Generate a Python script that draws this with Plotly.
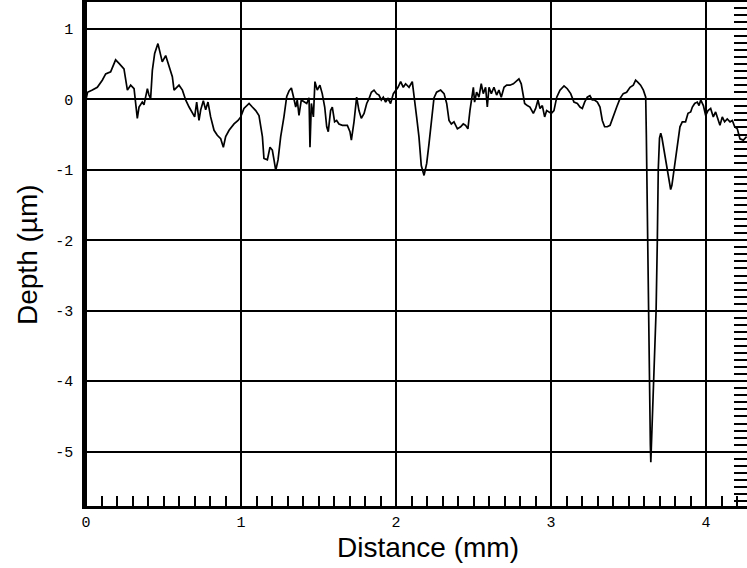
import plotly.graph_objects as go

# Profile trace: distance (mm) and depth (um)
distance_mm = [
    0.000, 0.010, 0.041, 0.073, 0.105, 0.127, 0.159, 0.191, 0.213, 0.245,
    0.267, 0.288, 0.310, 0.320, 0.331, 0.342, 0.363, 0.374, 0.396, 0.406,
    0.417, 0.428, 0.443, 0.464, 0.482, 0.492, 0.514, 0.535, 0.557, 0.568,
    0.600, 0.622, 0.643, 0.665, 0.686, 0.701, 0.714, 0.729, 0.740, 0.757,
    0.772, 0.787, 0.804, 0.826, 0.847, 0.869, 0.886, 0.901, 0.923, 0.955,
    0.981, 0.998, 1.019, 1.052, 1.073, 1.095, 1.116, 1.138, 1.148, 1.170,
    1.187, 1.202, 1.213, 1.224, 1.239, 1.256, 1.277, 1.295, 1.310, 1.325,
    1.338, 1.353, 1.363, 1.374, 1.389, 1.406, 1.424, 1.439, 1.445, 1.454,
    1.467, 1.477, 1.492, 1.509, 1.524, 1.540, 1.553, 1.563, 1.578, 1.589,
    1.604, 1.617, 1.632, 1.654, 1.686, 1.703, 1.712, 1.729, 1.746, 1.761,
    1.776, 1.794, 1.811, 1.826, 1.841, 1.858, 1.875, 1.890, 1.905, 1.918,
    1.933, 1.948, 1.965, 1.983, 1.998, 2.013, 2.030, 2.047, 2.062, 2.084,
    2.105, 2.116, 2.133, 2.148, 2.163, 2.181, 2.198, 2.213, 2.228, 2.245,
    2.262, 2.288, 2.310, 2.327, 2.342, 2.357, 2.374, 2.396, 2.417, 2.434,
    2.449, 2.464, 2.477, 2.492, 2.499, 2.507, 2.520, 2.535, 2.550, 2.563,
    2.578, 2.589, 2.600, 2.615, 2.632, 2.649, 2.664, 2.679, 2.697, 2.714,
    2.735, 2.757, 2.778, 2.793, 2.808, 2.821, 2.830, 2.847, 2.864, 2.886,
    2.901, 2.916, 2.929, 2.944, 2.959, 2.972, 2.987, 3.002, 3.019, 3.037,
    3.058, 3.084, 3.105, 3.127, 3.148, 3.170, 3.187, 3.202, 3.217, 3.234,
    3.251, 3.266, 3.281, 3.299, 3.316, 3.331, 3.346, 3.363, 3.381, 3.402,
    3.424, 3.445, 3.466, 3.488, 3.510, 3.531, 3.546, 3.561, 3.578, 3.596,
    3.611, 3.615, 3.620, 3.627, 3.632, 3.637, 3.641, 3.644, 3.650, 3.658,
    3.668, 3.678, 3.686, 3.692, 3.700, 3.708, 3.716, 3.728, 3.740, 3.751,
    3.762, 3.772, 3.780, 3.790, 3.804, 3.819, 3.832, 3.847, 3.868, 3.884,
    3.901, 3.912, 3.927, 3.944, 3.955, 3.966, 3.983, 3.998, 4.013, 4.030,
    4.047, 4.062, 4.077, 4.090, 4.105, 4.120, 4.137, 4.155, 4.170, 4.185,
    4.202, 4.219, 4.241, 4.262,
]
depth_um = [
    0.00, 0.10, 0.13, 0.17, 0.27, 0.36, 0.39, 0.56, 0.51, 0.43,
    0.13, 0.20, 0.15, -0.11, -0.27, -0.11, -0.04, -0.08, 0.15, 0.06,
    0.01, 0.41, 0.65, 0.79, 0.62, 0.53, 0.62, 0.46, 0.32, 0.13,
    0.20, 0.13, -0.01, -0.11, -0.20, -0.25, -0.04, -0.30, -0.15, -0.02,
    -0.15, -0.04, -0.25, -0.44, -0.51, -0.56, -0.68, -0.53, -0.44, -0.35,
    -0.30, -0.25, -0.13, -0.06, -0.11, -0.16, -0.23, -0.53, -0.84, -0.86,
    -0.68, -0.72, -0.86, -1.01, -0.86, -0.53, -0.25, 0.04, 0.12, 0.16,
    0.04, -0.11, -0.01, -0.23, -0.01, -0.04, -0.06, 0.02, -0.68, -0.06,
    -0.25, 0.25, 0.13, 0.20, 0.08, -0.11, -0.39, -0.46, -0.16, -0.11,
    -0.32, -0.30, -0.35, -0.37, -0.37, -0.46, -0.58, -0.32, 0.03, -0.16,
    -0.27, -0.20, -0.06, 0.01, 0.10, 0.13, 0.08, 0.06, -0.01, 0.03,
    -0.04, 0.01, -0.06, 0.08, 0.13, 0.17, 0.25, 0.17, 0.22, 0.17,
    0.25, 0.02, -0.25, -0.53, -0.94, -1.08, -0.91, -0.63, -0.30, 0.02,
    0.10, 0.13, 0.08, -0.06, -0.30, -0.35, -0.32, -0.42, -0.39, -0.35,
    -0.37, -0.42, -0.16, 0.03, 0.17, -0.04, 0.10, 0.03, 0.22, 0.08,
    0.17, -0.11, 0.17, 0.08, 0.17, 0.06, 0.13, 0.03, 0.17, 0.20,
    0.20, 0.22, 0.26, 0.29, 0.22, 0.08, -0.06, -0.09, -0.11, -0.20,
    -0.13, -0.01, -0.13, -0.09, -0.25, -0.16, -0.18, -0.20, -0.16, 0.03,
    0.13, 0.19, 0.15, 0.08, -0.04, -0.06, -0.11, -0.13, -0.04, 0.03,
    0.05, -0.01, -0.01, -0.04, -0.11, -0.30, -0.39, -0.39, -0.37, -0.23,
    -0.11, 0.01, 0.08, 0.10, 0.17, 0.20, 0.27, 0.24, 0.20, 0.13,
    0.03, -0.50, -1.50, -2.50, -3.50, -4.30, -4.90, -5.15, -4.80, -4.30,
    -3.85, -3.00, -2.00, -1.00, -0.55, -0.48, -0.55, -0.70, -0.87, -1.01,
    -1.15, -1.28, -1.22, -1.06, -0.82, -0.63, -0.39, -0.32, -0.32, -0.20,
    -0.18, -0.11, -0.06, -0.04, -0.09, -0.01, -0.09, -0.23, -0.16, -0.13,
    -0.25, -0.18, -0.28, -0.37, -0.25, -0.32, -0.28, -0.32, -0.30, -0.39,
    -0.42, -0.56, -0.58, -0.53,
]

x_ticks = [0, 1, 2, 3, 4]
x_tick_labels = ["0", "1", "2", "3", "4"]
y_ticks = [1, 0, -1, -2, -3, -4, -5]
y_tick_labels = ["1", "0", "-1", "-2", "-3", "-4", "-5"]
x_title = "Distance (mm)"
y_title = "Depth (µm)"

fig = go.Figure()
fig.add_trace(go.Scatter(
    x=distance_mm, y=depth_um, mode="lines",
    line=dict(color="black", width=1.7), showlegend=False,
))
# empty trace so the right-hand ruler axis is drawn
fig.add_trace(go.Scatter(x=[], y=[], yaxis="y2", showlegend=False,
                         hoverinfo="skip"))

tick_font = dict(family="Liberation Mono", size=15, color="black")
title_font = dict(family="Liberation Sans", size=28, color="black")
y_range = [-5.77, 1.38]

fig.update_layout(
    width=747, height=568,
    margin=dict(l=85, r=0, t=2, b=62, autoexpand=False),
    paper_bgcolor="white", plot_bgcolor="white",
    xaxis=dict(
        range=[-0.0065, 4.2645], automargin=False,
        tickmode="array", tickvals=x_ticks, ticktext=x_tick_labels,
        ticks="", ticklen=0, tickfont=tick_font, ticklabelstandoff=0,
        showgrid=True, gridcolor="black", gridwidth=2,
        zeroline=False, showline=True, linecolor="black", linewidth=2.5,
        mirror=True,
        minor=dict(tick0=0, dtick=0.1, ticks="inside", ticklen=10,
                   tickwidth=1.5, tickcolor="black", showgrid=False),
    ),
    yaxis=dict(
        range=y_range, automargin=False,
        tickmode="array", tickvals=y_ticks, ticktext=y_tick_labels,
        ticks="", ticklen=0, tickfont=tick_font, ticklabelstandoff=6,
        showgrid=True, gridcolor="black", gridwidth=1.6,
        zeroline=False, showline=True, linecolor="black", linewidth=2.5,
    ),
    yaxis2=dict(
        range=y_range, overlaying="y", side="right", anchor="x",
        automargin=False,
        tickmode="linear", tick0=0, dtick=0.1,
        ticks="inside", ticklen=13, tickwidth=2, tickcolor="black",
        showticklabels=False, showgrid=False, zeroline=False, showline=False,
    ),
    annotations=[
        dict(text=x_title, xref="paper", yref="paper", x=0.518, y=-0.082,
             xanchor="center", yanchor="middle", showarrow=False,
             font=title_font),
        dict(text=y_title, xref="paper", yref="paper", x=-0.0876, y=0.498,
             xanchor="center", yanchor="middle", showarrow=False,
             textangle=-90, font=title_font),
    ],
)

fig.write_html("out.html", config={"displayModeBar": False},
               post_script="document.body.style.margin='0px';")
